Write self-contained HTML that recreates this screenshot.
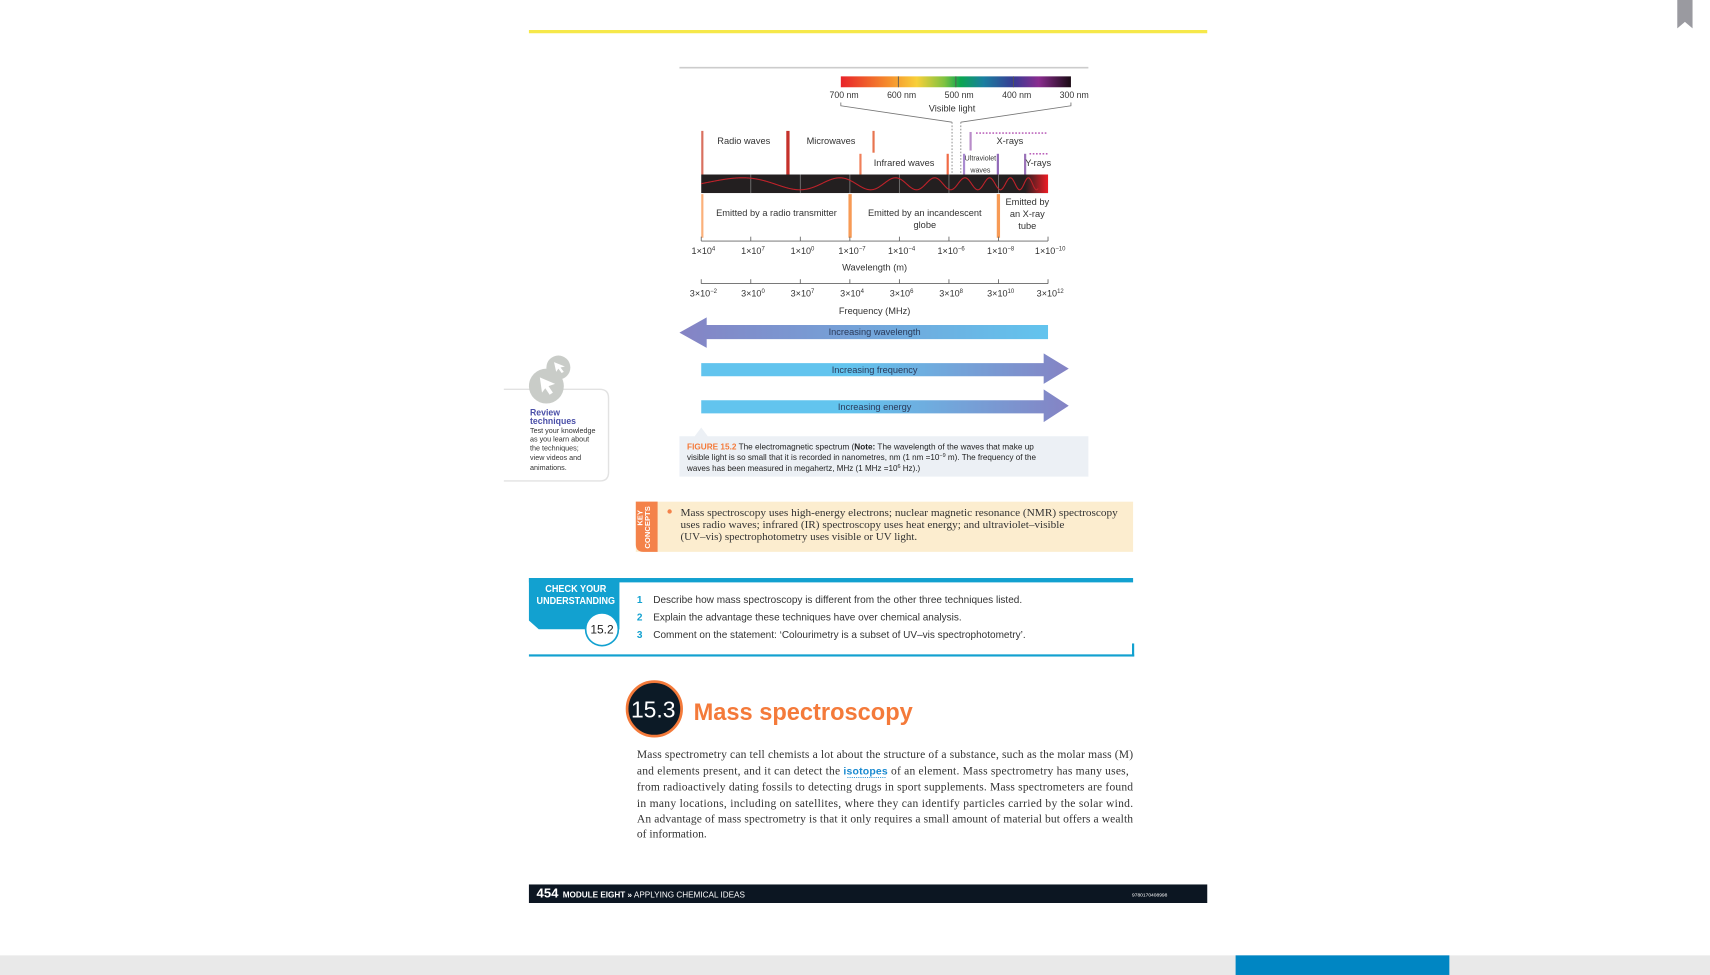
<!DOCTYPE html>
<html><head><meta charset="utf-8"><style>
html,body{margin:0;padding:0;background:#fff;width:1710px;height:975px;overflow:hidden}
svg{display:block}
.s{font-family:"Liberation Sans",sans-serif}
.r{font-family:"Liberation Serif",serif}
</style></head><body>
<svg id="page" width="1710" height="975" viewBox="0 0 1568 894" xmlns="http://www.w3.org/2000/svg">
<defs>
<linearGradient id="spec" x1="0" x2="1" y1="0" y2="0">
<stop offset="0" stop-color="#e8232a"/><stop offset="0.2" stop-color="#f58a2c"/><stop offset="0.33" stop-color="#f8d03a"/><stop offset="0.45" stop-color="#7fc241"/><stop offset="0.52" stop-color="#0aa650"/><stop offset="0.62" stop-color="#1a7fa0"/><stop offset="0.75" stop-color="#383b94"/><stop offset="0.86" stop-color="#8a2c8f"/><stop offset="1" stop-color="#1a0a14"/>
</linearGradient>
<linearGradient id="gL" x1="0" x2="1"><stop offset="0" stop-color="#8583c4"/><stop offset="1" stop-color="#62c4ee"/></linearGradient>
<linearGradient id="gR" x1="0" x2="1"><stop offset="0" stop-color="#62c4ee"/><stop offset="0.4" stop-color="#62c4ee"/><stop offset="1" stop-color="#8583c4"/></linearGradient>
<linearGradient id="tipR" x1="0" x2="1"><stop offset="0" stop-color="#231f20"/><stop offset="1" stop-color="#ee1c25"/></linearGradient>
</defs>

<line x1="485" y1="29" x2="1107" y2="29" stroke="#f6e84a" stroke-width="3"/>
<path d="M1538 0H1552V26L1545 20L1538 26Z" fill="#9a9aa0"/>

<g id="fig" class="s">
<line x1="623" y1="62" x2="998" y2="62" stroke="#ccc" stroke-width="1.5"/>
<rect x="771" y="70" width="211" height="10" fill="url(#spec)"/>
<g id="nmTicks"></g>
<text x="873" y="102" font-size="8.5" text-anchor="middle" fill="#333">Visible light</text>
<path d="M771 94V97L873 112M982 94V97L881 112" fill="none" stroke="#777" stroke-width="0.8"/>
<line x1="873" y1="112" x2="873" y2="160" stroke="#999" stroke-dasharray="1.5,1.5"/>
<line x1="881" y1="112" x2="881" y2="160" stroke="#999" stroke-dasharray="1.5,1.5"/>
<rect x="643" y="160" width="318" height="17" fill="#231f20"/>
<rect x="940" y="160" width="21" height="17" fill="url(#tipR)"/>
<g id="waveDiv"></g>
<path id="sine" fill="none" stroke="#c0222a" stroke-width="1"/>
<g>
<rect x="643" y="120" width="2" height="40" fill="#d9705f"/>
<rect x="721" y="120" width="3" height="40" fill="#c5312b"/>
<rect x="800" y="120" width="2" height="20" fill="#e8744f"/>
<rect x="788" y="141" width="2" height="19" fill="#f0805a"/>
<rect x="868" y="141" width="2" height="19" fill="#f06a45"/>
<rect x="889" y="121" width="2" height="17" fill="#b98cc9"/>
<line x1="895" y1="122" x2="961" y2="122" stroke="#b04ab0" stroke-width="1.3" stroke-dasharray="1.5,1.5"/>
<rect x="883" y="141" width="2" height="19" fill="#a98ad0"/>
<rect x="914" y="141" width="2" height="19" fill="#9169b8"/>
<rect x="939" y="141" width="2" height="19" fill="#9a72b8"/>
<line x1="944" y1="141" x2="961" y2="141" stroke="#b04ab0" stroke-width="1.3" stroke-dasharray="1.5,1.5"/>
<rect x="643" y="178" width="2" height="40" fill="#fbb07a"/>
<rect x="778" y="178" width="3" height="40" fill="#f79a55"/>
<rect x="914" y="178" width="3" height="40" fill="#f79a55"/>
</g>
<g font-size="8.5" fill="#333" text-anchor="middle">
<text x="682" y="132">Radio waves</text>
<text x="762" y="132">Microwaves</text>
<text x="829" y="152">Infrared waves</text>
<text x="926" y="132">X-rays</text>
<text x="899" y="147" font-size="6.5">Ultraviolet</text>
<text x="899" y="158" font-size="6.5">waves</text>
<text x="952" y="152">Y-rays</text>
<text x="712" y="198">Emitted by a radio transmitter</text>
<text x="848" y="198">Emitted by an incandescent</text>
<text x="848" y="209">globe</text>
<text x="942" y="188">Emitted by</text>
<text x="942" y="199">an X-ray</text>
<text x="942" y="210">tube</text>
</g>
<g id="wlAxis"></g>
<text x="802" y="248" font-size="8.5" text-anchor="middle" fill="#333">Wavelength (m)</text>
<g id="frAxis"></g>
<text x="802" y="288" font-size="8.5" text-anchor="middle" fill="#333">Frequency (MHz)</text>

<g>
<path d="M623 305L648 291V298H961V311H648V319Z" fill="url(#gL)"/>
<text x="802" y="307" font-size="8.5" text-anchor="middle" fill="#2a3a5a">Increasing wavelength</text>
</g>
<g>
<path d="M643 333H957V324L980 338L957 352V345H643Z" fill="url(#gR)"/>
<text x="802" y="342" font-size="8.5" text-anchor="middle" fill="#2a3a5a">Increasing frequency</text>
</g>
<g>
<path d="M643 367H957V357L980 372L957 387V379H643Z" fill="url(#gR)"/>
<text x="802" y="376" font-size="8.5" text-anchor="middle" fill="#2a3a5a">Increasing energy</text>
</g>
<g>
<path d="M623 400H637L643 392L649 400H998V437H623Z" fill="#ecf0f5"/>
<text x="630" y="412" font-size="7.4" fill="#222" textLength="318" lengthAdjust="spacingAndGlyphs"><tspan fill="#f47a3a" font-weight="bold">FIGURE 15.2</tspan>  The electromagnetic spectrum (<tspan font-weight="bold">Note:</tspan> The wavelength of the waves that make up</text>
<text x="630" y="422" font-size="7.4" fill="#222" textLength="320" lengthAdjust="spacingAndGlyphs">visible light is so small that it is recorded in nanometres, nm (1 nm =10<tspan font-size="5" dy="-3">−9</tspan><tspan dy="3"> m). The frequency of the</tspan></text>
<text x="630" y="432" font-size="7.4" fill="#222">waves has been measured in megahertz, MHz (1 MHz =10<tspan font-size="5" dy="-3">6</tspan><tspan dy="3"> Hz).)</tspan></text>
</g>
</g>

<g class="s">
<path d="M462 357H550Q558 357 558 365V433Q558 441 550 441H462" fill="#fff" stroke="#e2e2e2" stroke-width="1.3"/>
<circle cx="512" cy="337" r="11" fill="#c9ccc8"/>
<path d="M508 332L518 336L514 337L517 341L515 342L512 338L510 341Z" fill="#fff"/>
<circle cx="501" cy="354" r="16" fill="#c9ccc8"/>
<path d="M495 346L509 352L503 354L507 360L504 362L500 356L497 360Z" fill="#fff"/>
<text x="486" y="381" font-size="8" font-weight="bold" fill="#4a4fa8">Review</text>
<text x="486" y="389" font-size="8" font-weight="bold" fill="#4a4fa8">techniques</text>
<g font-size="6.6" fill="#333"><text x="486" y="397">Test your knowledge</text><text x="486" y="405">as you learn about</text><text x="486" y="413">the techniques;</text><text x="486" y="422">view videos and</text><text x="486" y="431">animations.</text></g>
</g>

<g>
<rect x="583" y="460" width="456" height="46" fill="#fcedcf"/>
<path d="M583 460H603V506H590Q583 506 583 499Z" fill="#f4824a"/>
<text transform="translate(596 503) rotate(-90)" font-size="7" font-weight="bold" fill="#fff" class="s">CONCEPTS</text>
<text transform="translate(589 482) rotate(-90)" font-size="7" font-weight="bold" fill="#fff" class="s">KEY</text>
<circle cx="614" cy="469" r="2" fill="#f4824a"/>
<g class="r" font-size="9.9" fill="#333">
<text x="624" y="473" textLength="401" lengthAdjust="spacingAndGlyphs">Mass spectroscopy uses high-energy electrons; nuclear magnetic resonance (NMR) spectroscopy</text>
<text x="624" y="484" textLength="352" lengthAdjust="spacingAndGlyphs">uses radio waves; infrared (IR) spectroscopy uses heat energy; and ultraviolet–visible</text>
<text x="624" y="495" textLength="217" lengthAdjust="spacingAndGlyphs">(UV–vis) spectrophotometry uses visible or UV light.</text>
</g>
</g>

<g class="s">
<rect x="485" y="530" width="554" height="4" fill="#12a1d0"/>
<path d="M485 530H568V577H494L485 569Z" fill="#12a1d0"/>
<text x="528" y="543" font-size="9.5" font-weight="bold" fill="#fff" text-anchor="middle" textLength="56" lengthAdjust="spacingAndGlyphs">CHECK YOUR</text>
<text x="528" y="554" font-size="9.5" font-weight="bold" fill="#fff" text-anchor="middle" textLength="72" lengthAdjust="spacingAndGlyphs">UNDERSTANDING</text>
<circle cx="552" cy="577" r="15" fill="#fff" stroke="#12a1d0" stroke-width="1.5"/>
<text x="552" y="581" font-size="11" text-anchor="middle" fill="#222">15.2</text>
<g font-size="9.2" fill="#333">
<text x="584" y="553" fill="#12a1d0" font-weight="bold">1</text><text x="599" y="553">Describe how mass spectroscopy is different from the other three techniques listed.</text>
<text x="584" y="569" fill="#12a1d0" font-weight="bold">2</text><text x="599" y="569">Explain the advantage these techniques have over chemical analysis.</text>
<text x="584" y="585" fill="#12a1d0" font-weight="bold">3</text><text x="599" y="585">Comment on the statement: ‘Colourimetry is a subset of UV–vis spectrophotometry’.</text>
</g>
<rect x="485" y="600" width="555" height="2" fill="#12a1d0"/>
<rect x="1038" y="590" width="2" height="12" fill="#12a1d0"/>
</g>

<g class="s">
<circle cx="600" cy="650" r="25" fill="#0c1a26" stroke="#f47a3a" stroke-width="2.5"/>
<text x="599" y="658" font-size="21" fill="#fff" text-anchor="middle">15.3</text>
<text x="636" y="660" font-size="22" font-weight="bold" fill="#f47a3a" textLength="201" lengthAdjust="spacingAndGlyphs">Mass spectroscopy</text>
</g>
<g class="r" font-size="10.6" fill="#333">
<text x="584" y="695" textLength="455" lengthAdjust="spacing">Mass spectrometry can tell chemists a lot about the structure of a substance, such as the molar mass (M)</text>
<text x="584" y="710" textLength="451" lengthAdjust="spacing">and elements present, and it can detect the <tspan fill="#1a8ad0" font-weight="bold" font-size="9.6" class="s">isotopes</tspan> of an element. Mass spectrometry has many uses,</text>
<line x1="777" y1="713" x2="813" y2="713" stroke="#1a8ad0" stroke-width="0.8" stroke-dasharray="1,1"/>
<text x="584" y="725" textLength="455" lengthAdjust="spacing">from radioactively dating fossils to detecting drugs in sport supplements. Mass spectrometers are found</text>
<text x="584" y="740" textLength="455" lengthAdjust="spacing">in many locations, including on satellites, where they can identify particles carried by the solar wind.</text>
<text x="584" y="754" textLength="455" lengthAdjust="spacing">An advantage of mass spectrometry is that it only requires a small amount of material but offers a wealth</text>
<text x="584" y="768">of information.</text>
</g>

<g class="s">
<rect x="485" y="811" width="622" height="17" fill="#0c1622"/>
<text x="492" y="823" font-size="12" fill="#fff" font-weight="bold">454</text>
<text x="516" y="823" font-size="7.5" fill="#fff"><tspan font-weight="bold">MODULE EIGHT »</tspan> APPLYING CHEMICAL IDEAS</text>
<text x="1038" y="822" font-size="4.5" fill="#fff">9780170408998</text>
</g>
<rect x="0" y="876" width="1568" height="18" fill="#e9e9e9"/>
<rect x="1133" y="876" width="196" height="18" fill="#0086c3"/>
</svg>
<script>
const nmLabels = ["700 nm","600 nm","500 nm","400 nm","300 nm"];
const wlMantissa = ["1","1","1","1","1","1","1","1"];
const wlExponents = ["4","7","0","−7","−4","−6","−8","−10"];
const frMantissa = ["3","3","3","3","3","3","3","3"];
const frExponents = ["−2","0","7","4","6","8","10","12"];
const NS = "http://www.w3.org/2000/svg";
const axX0 = 643, axX1 = 961;
function xAx(i, n){ return axX0 + (axX1 - axX0) * i / (n - 1); }
function nmX(i, n){ return 771 + 211 * i / (n - 1); }
function mk(tag, attrs, parent){ const e = document.createElementNS(NS, tag); for (const k in attrs) e.setAttribute(k, attrs[k]); parent.appendChild(e); return e; }
const nmG = document.getElementById('nmTicks');
nmLabels.forEach((l, i) => {
  const x = nmX(i, nmLabels.length);
  if (i > 0 && i < nmLabels.length - 1) mk('line', {x1:x, y1:70, x2:x, y2:80, stroke:'#555', 'stroke-width':0.8}, nmG);
  const t = mk('text', {x:x + 3, y:90, 'font-size':8, 'text-anchor':'middle', fill:'#333'}, nmG);
  
  
  t.textContent = l;
});
const wd = document.getElementById('waveDiv');
for (let i = 1; i < wlExponents.length - 1; i++) { const x = xAx(i, wlExponents.length); mk('line', {x1:x, y1:160, x2:x, y2:177, stroke:'#777', 'stroke-width':0.8}, wd); }
function axis(gid, y, mant, exps, nm){
  const g = document.getElementById(gid);
  mk('line', {x1:axX0, y1:y, x2:axX1, y2:y, stroke:'#666', 'stroke-width':0.8}, g);
  exps.forEach((e, i) => {
    const x = xAx(i, exps.length);
    mk('line', {x1:x, y1:y - 4, x2:x, y2:y, stroke:'#666', 'stroke-width':0.8}, g);
    const t = mk('text', {x:x + 2, y:y + 12, 'font-size':8.3, 'text-anchor':'middle', fill:'#333'}, g);
    
    
    t.innerHTML = mant[i] + '×10<tspan font-size="5.5" dy="-3.5">' + e + '</tspan>';
  });
}
axis('wlAxis', 221, wlMantissa, wlExponents, 'wavelength-tick-label');
axis('frAxis', 260, frMantissa, frExponents, 'frequency-tick-label');
let d = '', ph = 0;
for (let x = 643; x <= 952; x += 0.5) {
  const u = (x - 643) / 318;
  const f = 0.035 * Math.exp(u * 2.6);
  ph += f * 0.5;
  const y = 168.5 - 5.5 * Math.sin(ph);
  d += (d ? 'L' : 'M') + x.toFixed(1) + ' ' + y.toFixed(2);
}
document.getElementById('sine').setAttribute('d', d);
</script>
</body></html>
